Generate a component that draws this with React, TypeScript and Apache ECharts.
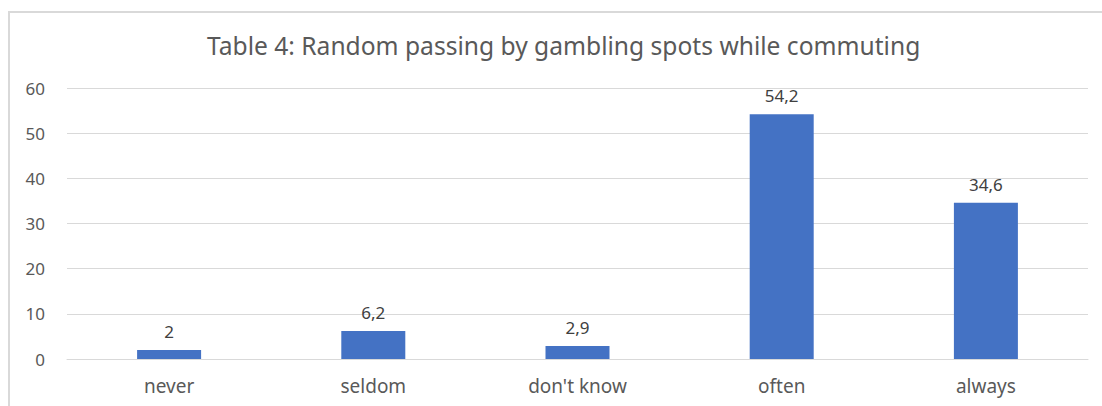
import React, { useEffect, useRef } from "react";
import * as echarts from "echarts";

const titleText = "Table 4: Random passing by gambling spots while commuting";
const categories = ["never", "seldom", "don't know", "often", "always"];
const values = [2, 6.2, 2.9, 54.2, 34.6];
const yTicks = { min: 0, max: 60, interval: 10 };

const FONT = "'Noto Sans', 'Open Sans', sans-serif";

export default function App() {
  const ref = useRef<HTMLDivElement>(null);
  useEffect(() => {
    if (!ref.current) return;
    const chart = echarts.init(ref.current, undefined, { renderer: "svg" });
    chart.setOption({
      animation: false,
      backgroundColor: "#ffffff",
      title: {
        text: titleText,
        left: 202,
        top: 28,
        textStyle: { fontFamily: FONT, fontSize: 24.6, fontWeight: "normal", color: "#595959" },
      },
      graphic: [
        { type: "line", shape: { x1: 8, y1: 12, x2: 1102, y2: 12 }, style: { stroke: "#d9d9d9", lineWidth: 2 } },
        { type: "line", shape: { x1: 9, y1: 12, x2: 9, y2: 406 }, style: { stroke: "#d9d9d9", lineWidth: 2 } },
      ],
      grid: { left: 67, right: 14, top: 88, bottom: 47, containLabel: false },
      xAxis: {
        type: "category",
        data: categories,
        axisLine: { show: true, lineStyle: { color: "#d9d9d9", width: 1 } },
        axisTick: { show: false },
        axisLabel: { color: "#595959", fontSize: 19, fontFamily: FONT, margin: 17 },
      },
      yAxis: {
        type: "value",
        min: yTicks.min,
        max: yTicks.max,
        interval: yTicks.interval,
        axisLine: { show: false },
        axisTick: { show: false },
        axisLabel: { color: "#595959", fontSize: 17, fontFamily: FONT, margin: 22 },
        splitLine: { lineStyle: { color: "#d9d9d9", width: 1 } },
      },
      series: [
        {
          type: "bar",
          data: values,
          barWidth: 64,
          itemStyle: { color: "#4472c4" },
          label: {
            show: true,
            position: "top",
            distance: 10,
            color: "#404040",
            fontSize: 17,
            fontFamily: FONT,
            formatter: (p: any) => String(p.value).replace(".", ","),
          },
        },
      ],
    });
    return () => chart.dispose();
  }, []);
  return <div ref={ref} style={{ position: "fixed", left: 0, top: 0, width: 1102, height: 406 }} />;
}
